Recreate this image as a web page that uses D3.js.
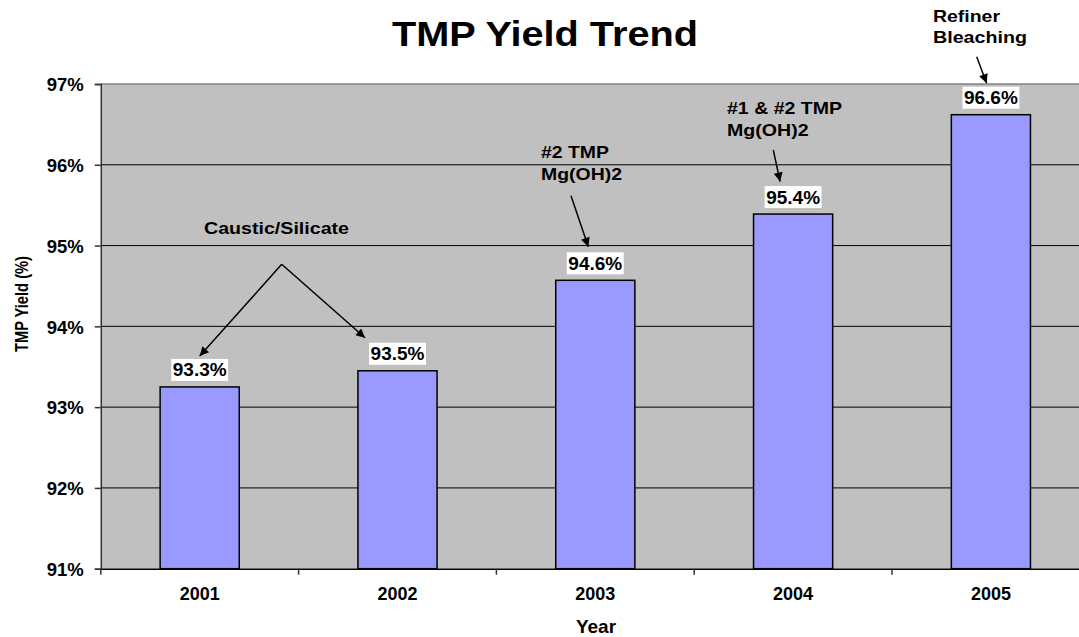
<!DOCTYPE html>
<html>
<head>
<meta charset="utf-8">
<script src="https://cdn.jsdelivr.net/npm/d3@7/dist/d3.min.js"></script>
<style>
  html, body { margin: 0; padding: 0; background: #fff; }
  svg { display: block; }
  text { font-family: "Liberation Sans", Arial, Helvetica, sans-serif; font-weight: bold; fill: #000; }
</style>
</head>
<body>
<svg id="chart" width="1079" height="637"></svg>
<script>
const years = ["2001", "2002", "2003", "2004", "2005"];
const yields = [93.25, 93.45, 94.57, 95.39, 96.62];
const valueLabels = ["93.3%", "93.5%", "94.6%", "95.4%", "96.6%"];
const yTicks = [91, 92, 93, 94, 95, 96, 97];
const yTickLabels = ["91%", "92%", "93%", "94%", "95%", "96%", "97%"];
const chartTitle = "TMP Yield Trend";
const xTitle = "Year";
const yTitle = "TMP Yield (%)";
const noteCaustic = ["Caustic/Silicate"];
const note2003 = ["#2 TMP", "Mg(OH)2"];
const note2004 = ["#1 & #2 TMP", "Mg(OH)2"];
const note2005 = ["Refiner", "Bleaching"];

const svg = d3.select("#chart");
const L = 100.8, R = 1089.8, T = 84, B = 568.7;

const x = d3.scaleBand().domain(years).range([L, R]).padding(0);
const y = d3.scaleLinear().domain([91, 97]).range([B, T]);
const bw = x.bandwidth() * 0.4;
const cx = d => x(d) + x.bandwidth() / 2;

// plot background
svg.append("rect").attr("x", L).attr("y", T).attr("width", R - L).attr("height", B - T).attr("fill", "#C0C0C0");

// gridlines
svg.append("g").selectAll("line").data(yTicks.filter(v => v > 91 && v < 97)).join("line")
  .attr("x1", L).attr("x2", R).attr("y1", d => y(d)).attr("y2", d => y(d))
  .attr("stroke", "#000").attr("stroke-width", 1);
// top border
svg.append("line").attr("x1", L).attr("x2", R).attr("y1", T).attr("y2", T)
  .attr("stroke", "#808080").attr("stroke-width", 1.5);

// y axis
const yAxis = d3.axisLeft(y).tickValues(yTicks).tickFormat((d, i) => yTickLabels[i]).tickSize(6).tickPadding(11);
const gy = svg.append("g").attr("transform", `translate(${L},0)`).call(yAxis);
gy.select(".domain").attr("stroke", "#333").attr("stroke-width", 1.5);
gy.selectAll(".tick line").attr("stroke", "#333").attr("stroke-width", 1.5);
gy.selectAll(".tick text").attr("font-size", 18.5).attr("font-family", null).attr("dy", "0.36em");

// bars
svg.append("g").selectAll("rect").data(years).join("rect")
  .attr("x", d => cx(d) - bw / 2)
  .attr("y", (d, i) => y(yields[i]))
  .attr("width", bw)
  .attr("height", (d, i) => B - y(yields[i]))
  .attr("fill", "#9999FF").attr("stroke", "#000").attr("stroke-width", 1.5);

// x axis
const xAxis = d3.axisBottom(x).tickSize(0).tickPadding(0);
const gx = svg.append("g").attr("transform", `translate(0,${B})`).call(xAxis);
gx.select(".domain").attr("stroke", "#000").attr("stroke-width", 1.5);
gx.selectAll(".tick text").attr("font-size", 18).attr("font-family", null).attr("y", 31).attr("dy", 0);
// category separator ticks
svg.append("g").selectAll("line").data(years.concat(["end"])).join("line")
  .attr("x1", (d, i) => L + i * x.step()).attr("x2", (d, i) => L + i * x.step())
  .attr("y1", B).attr("y2", B + 6).attr("stroke", "#333").attr("stroke-width", 1.5);

// value labels with white boxes
const boxH = 22, boxGap = 6;
const lab = svg.append("g").selectAll("g").data(years).join("g");
lab.each(function (d, i) {
  const g = d3.select(this);
  const top = y(yields[i]) - boxGap - boxH;
  const r = g.append("rect").attr("fill", "#fff");
  const t = g.append("text").attr("x", cx(d)).attr("y", top + boxH - 4.5)
    .attr("text-anchor", "middle").attr("font-size", 19).text(valueLabels[i]);
  const w = t.node().getComputedTextLength() + 3;
  r.attr("x", cx(d) - w / 2).attr("y", top).attr("width", w).attr("height", boxH);
});
const boxTop = i => y(yields[i]) - boxGap - boxH;

// titles
svg.append("text").attr("x", 545).attr("y", 45.7).attr("text-anchor", "middle")
  .attr("font-size", 35.5).attr("textLength", 306).attr("lengthAdjust", "spacingAndGlyphs").text(chartTitle);
svg.append("text").attr("x", 596).attr("y", 633).attr("text-anchor", "middle")
  .attr("font-size", 19).text(xTitle);
svg.append("text").attr("transform", "translate(28,304) rotate(-90)").attr("text-anchor", "middle")
  .attr("font-size", 18).attr("textLength", 96).attr("lengthAdjust", "spacingAndGlyphs").text(yTitle);

// annotations
function note(lines, x0, y0, lh, widths) {
  lines.forEach((s, k) => {
    svg.append("text").attr("x", x0).attr("y", y0 + k * lh).attr("font-size", 16.5)
      .attr("textLength", widths[k]).attr("lengthAdjust", "spacingAndGlyphs").text(s);
  });
}
note(noteCaustic, 204, 234, 0, [145]);
note(note2003, 541, 157.7, 22.3, [68, 81]);
note(note2004, 727, 114, 21.7, [115, 81.6]);
note(note2005, 933, 21.7, 21.6, [67, 94]);

// arrows
svg.append("defs").append("marker").attr("id", "ah").attr("viewBox", "0 0 10 10")
  .attr("refX", 10).attr("refY", 5)
  .attr("markerUnits", "userSpaceOnUse").attr("orient", "auto")
  .attr("markerWidth", 13).attr("markerHeight", 9)
  .append("path").attr("d", "M0,0 L10,5 L0,10 Z").attr("fill", "#000");
function arrow(x1, y1, x2, y2) {
  svg.append("line").attr("x1", x1).attr("y1", y1).attr("x2", x2).attr("y2", y2)
    .attr("stroke", "#000").attr("stroke-width", 1.5).attr("marker-end", "url(#ah)");
}
arrow(281.7, 264.3, cx("2001"), boxTop(0) - 3);
arrow(281.7, 264.3, cx("2002") - 32.5, boxTop(1) - 5);
arrow(571, 195.7, cx("2003") - 7, boxTop(2) - 5.5);
arrow(773.3, 150, cx("2004") - 13, boxTop(3) - 4.5);
arrow(976.7, 56.7, cx("2005") - 4.3, boxTop(4) - 3.5);
</script>
</body>
</html>
